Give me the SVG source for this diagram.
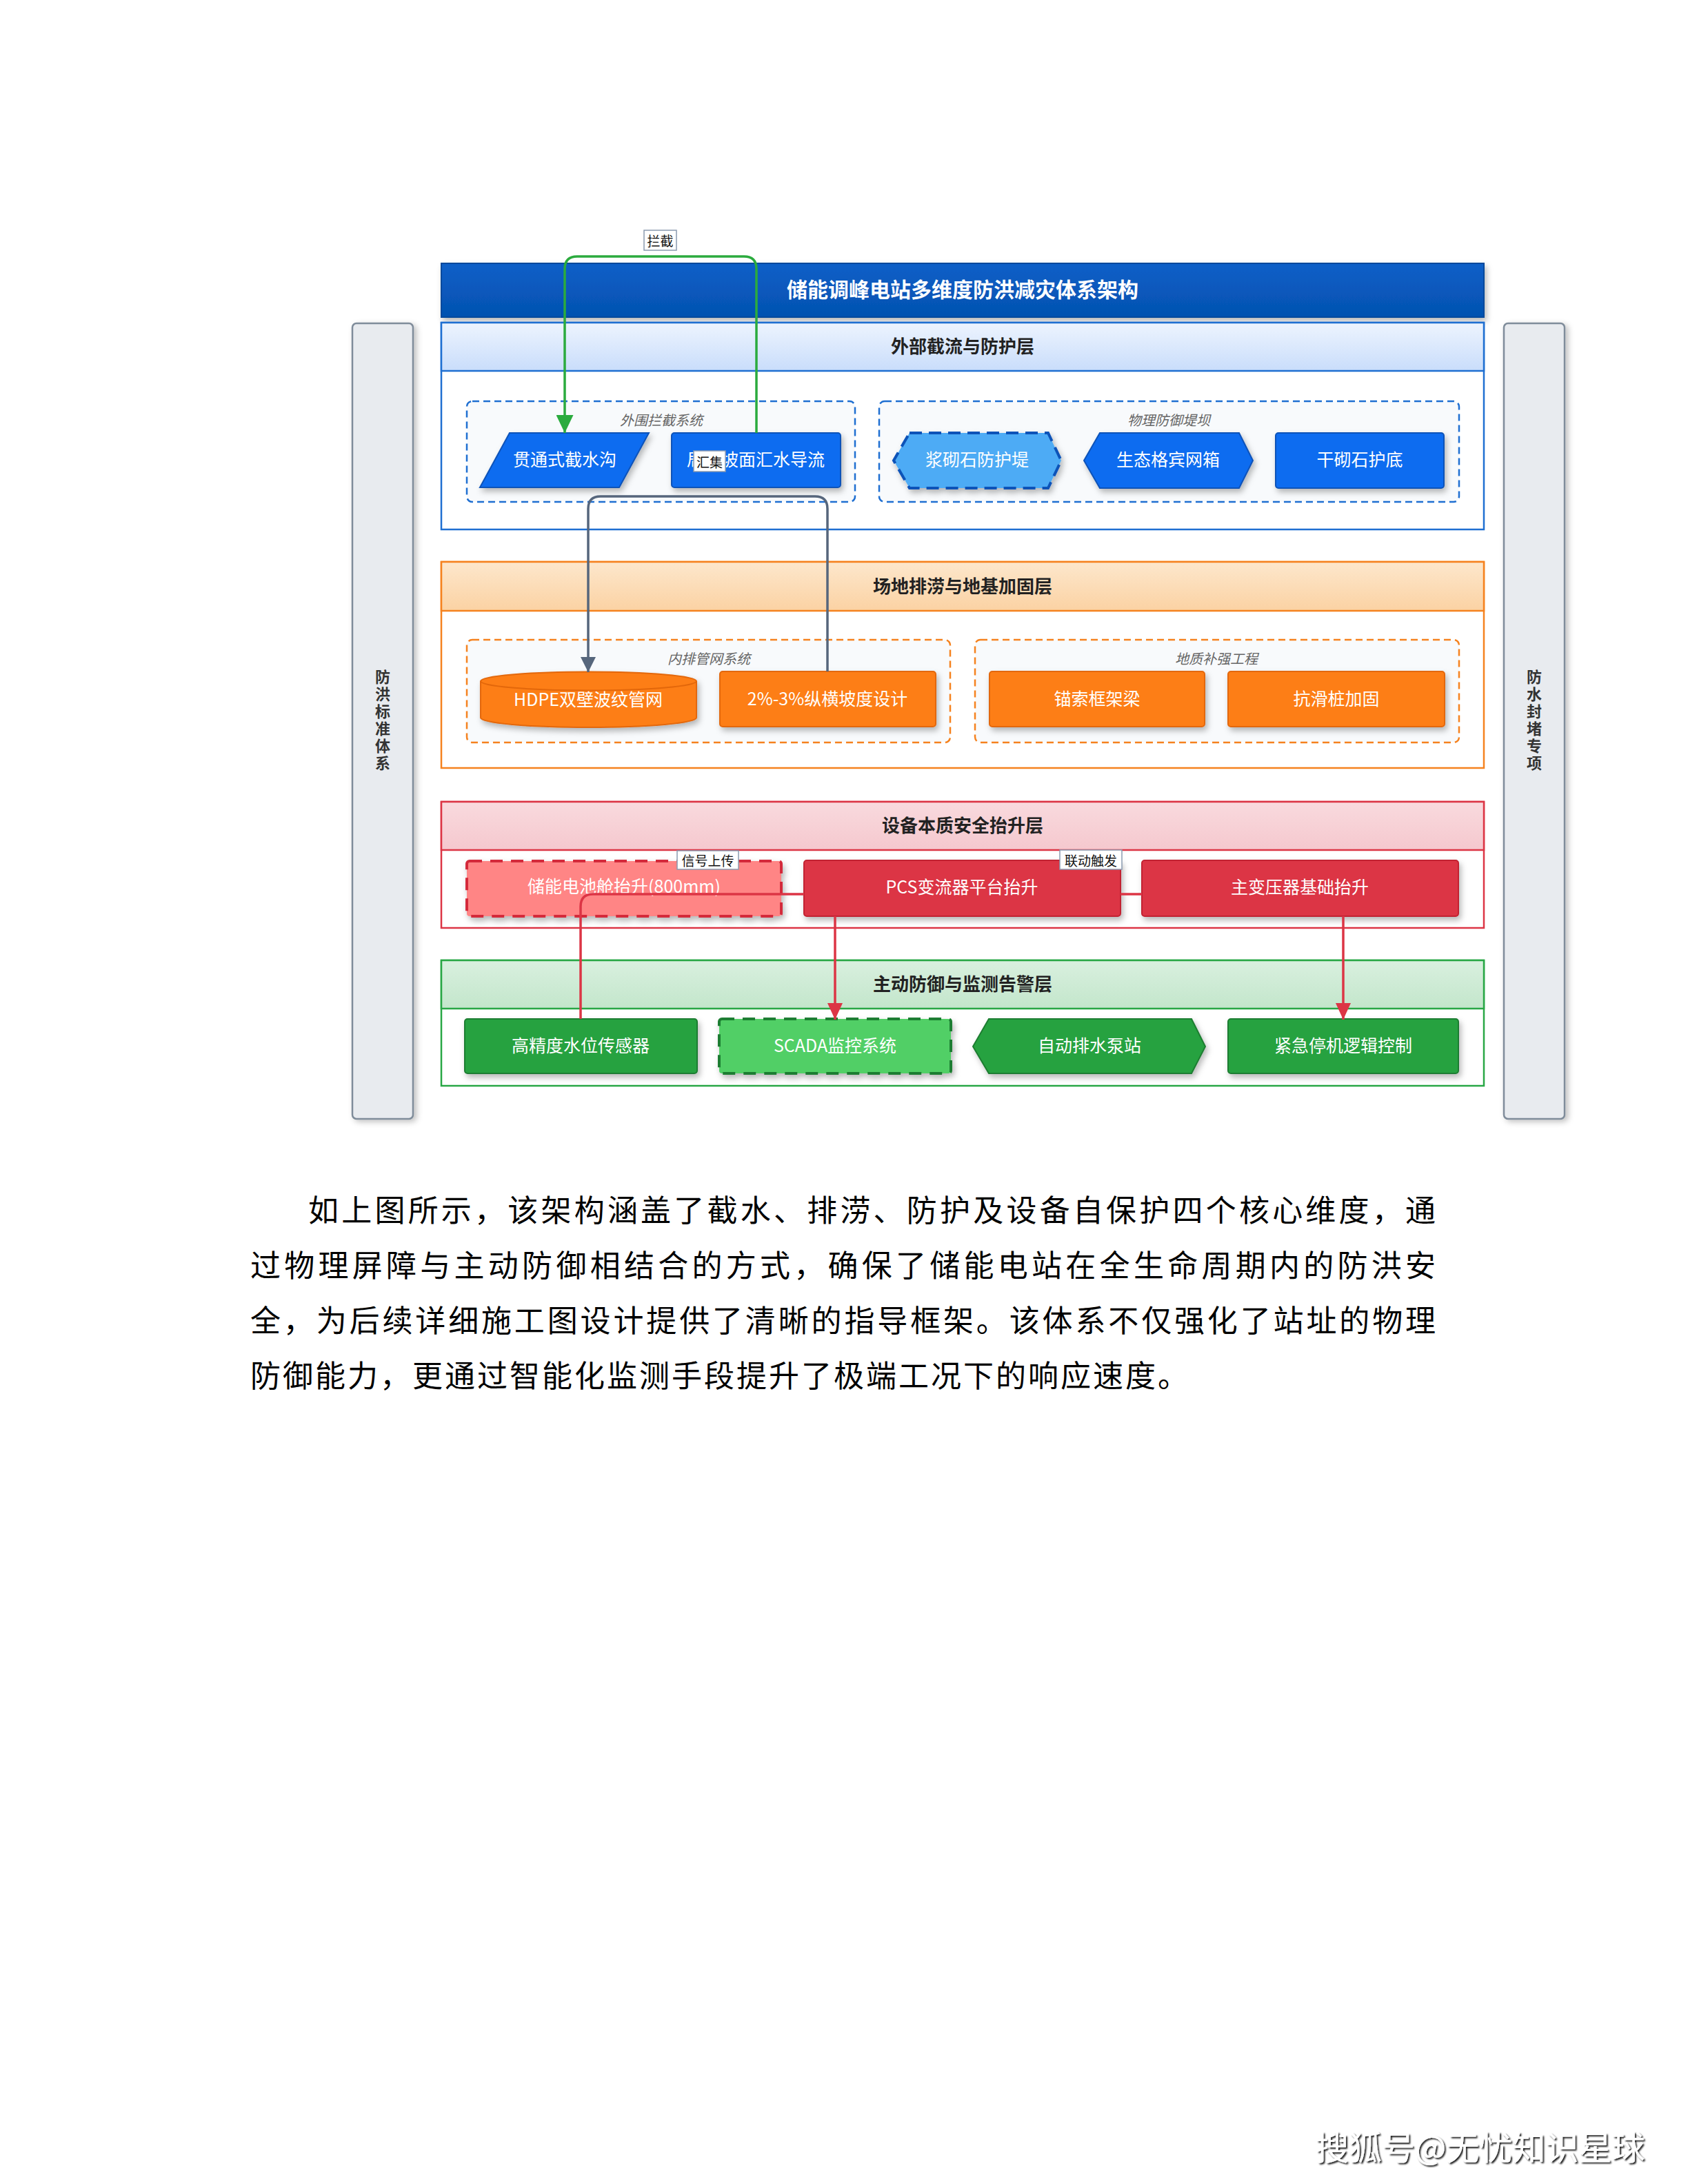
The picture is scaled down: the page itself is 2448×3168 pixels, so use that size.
<svg xmlns="http://www.w3.org/2000/svg" width="2448" height="3168" viewBox="0 0 2448 3168">
<defs>
<style>
.t{font-family:"Noto Sans CJK SC","Noto Sans",sans-serif;text-anchor:middle;dominant-baseline:central}
.nt{font-size:25px;fill:#ffffff}
.hd{font-size:26px;font-weight:bold;fill:#222222}
.gl{font-size:20px;font-style:italic;fill:#666666}
.el{font-size:19px;fill:#111111}
.side{font-family:"Noto Sans CJK SC","Noto Sans",sans-serif;font-size:22px;font-weight:bold;fill:#333333;text-anchor:middle;writing-mode:vertical-rl;letter-spacing:3px}
.lb{fill:#ffffff;stroke:#8a9bb0;stroke-width:1.5}
.blue{fill:#0b6cf0;stroke:#0a52b8;stroke-width:2}
.lblue{fill:#4dabf5;stroke:#0a52b8;stroke-width:4;stroke-dasharray:18 10}
.orange{fill:#fd7e14;stroke:#e3670a;stroke-width:2}
.red{fill:#dc3545;stroke:#c22232;stroke-width:2}
.lred{fill:#ff8585;stroke:#d42a3a;stroke-width:4;stroke-dasharray:18 12}
.green{fill:#28a23f;stroke:#1d7d30;stroke-width:2}
.lgreen{fill:#51cf66;stroke:#1d7d30;stroke-width:4;stroke-dasharray:18 12}
.para{font-family:"Noto Sans CJK SC",sans-serif;font-size:44px;fill:#000000}
.conn{fill:none;stroke-width:3.5}
</style>
<linearGradient id="gBlue" x1="0" y1="0" x2="0" y2="1"><stop offset="0" stop-color="#edf4fe"/><stop offset="1" stop-color="#c9ddfb"/></linearGradient>
<linearGradient id="gOrange" x1="0" y1="0" x2="0" y2="1"><stop offset="0" stop-color="#fde7cc"/><stop offset="1" stop-color="#fbd2a3"/></linearGradient>
<linearGradient id="gRed" x1="0" y1="0" x2="0" y2="1"><stop offset="0" stop-color="#f9dade"/><stop offset="1" stop-color="#f5c8ce"/></linearGradient>
<linearGradient id="gGreen" x1="0" y1="0" x2="0" y2="1"><stop offset="0" stop-color="#d9f0df"/><stop offset="1" stop-color="#c3e6cb"/></linearGradient>
<linearGradient id="gTitle" x1="0" y1="0" x2="0" y2="1"><stop offset="0" stop-color="#0a5fc8"/><stop offset="1" stop-color="#0552b0"/></linearGradient>
<filter id="sh" x="-10%" y="-20%" width="125%" height="150%"><feDropShadow dx="3" dy="5" stdDeviation="4" flood-color="#000000" flood-opacity="0.28"/></filter>
<filter id="shs" x="-20%" y="-5%" width="150%" height="110%"><feDropShadow dx="4" dy="3" stdDeviation="4" flood-color="#000000" flood-opacity="0.25"/></filter>
<filter id="fsh" x="-5%" y="-20%" width="110%" height="150%"><feDropShadow dx="2" dy="2" stdDeviation="0.8" flood-color="#000000" flood-opacity="0.9"/></filter>
<marker id="aG" viewBox="0 0 26 25" refX="26" refY="12.5" markerWidth="26" markerHeight="25" markerUnits="userSpaceOnUse" orient="auto"><path d="M0,0 L26,12.5 L0,25 Z" fill="#2bab3e"/></marker>
<marker id="aS" viewBox="0 0 22 22" refX="22" refY="11" markerWidth="22" markerHeight="22" markerUnits="userSpaceOnUse" orient="auto"><path d="M0,0 L22,11 L0,22 Z" fill="#56667c"/></marker>
<marker id="aR" viewBox="0 0 24 22" refX="24" refY="11" markerWidth="24" markerHeight="22" markerUnits="userSpaceOnUse" orient="auto"><path d="M0,0 L24,11 L0,22 Z" fill="#dc3545"/></marker>
</defs>
<rect x="0" y="0" width="2448" height="3168" fill="#ffffff"/>

<g id="side-left">
<rect x="511" y="469" width="88" height="1154" rx="6" fill="#e8ebef" stroke="#7f8c9a" stroke-width="2.5" filter="url(#shs)"/>
<text class="side" x="555" y="1046">防洪标准体系</text>
</g>
<g id="side-right">
<rect x="2181" y="469" width="88" height="1154" rx="6" fill="#e8ebef" stroke="#7f8c9a" stroke-width="2.5" filter="url(#shs)"/>
<text class="side" x="2225" y="1046">防水封堵专项</text>
</g>

<g id="title">
<rect x="640" y="382" width="1512" height="78" fill="url(#gTitle)" stroke="#04489c" stroke-width="2" filter="url(#sh)"/>
<text class="t" x="1396" y="418" font-size="30" font-weight="bold" fill="#ffffff">储能调峰电站多维度防洪减灾体系架构</text>
</g>

<g id="layer1">
<rect x="640" y="468" width="1512" height="300" fill="#ffffff" stroke="#1f6fd1" stroke-width="2.5"/>
<rect x="640" y="468" width="1512" height="70" fill="url(#gBlue)" stroke="#1f6fd1" stroke-width="2.5"/>
<text class="t hd" x="1396" y="500">外部截流与防护层</text>
</g>
<g id="group-outer">
<rect x="677" y="582" width="563" height="146" rx="8" fill="#f8fafc" stroke="#1f6fd1" stroke-width="2.5" stroke-dasharray="10 6"/>
<text class="t gl" x="959" y="608">外围拦截系统</text>
</g>
<g id="group-dam">
<rect x="1275" y="582" width="841" height="146" rx="8" fill="#f8fafc" stroke="#1f6fd1" stroke-width="2.5" stroke-dasharray="10 6"/>
<text class="t gl" x="1695" y="608">物理防御堤坝</text>
</g>
<g id="n-ditch">
<polygon class="blue" points="739,628 941,628 898,707 696,707" filter="url(#sh)"/>
<text class="t nt" x="819" y="665">贯通式截水沟</text>
</g>
<g id="n-slope">
<rect class="blue" x="974" y="628" width="245" height="79" rx="4" filter="url(#sh)"/>
<text class="t nt" x="1096" y="665">局部坡面汇水导流</text>
</g>
<g id="n-masonry">
<polygon class="lblue" points="1319,628 1520,628 1539,668 1520,708 1319,708 1296,668" filter="url(#sh)"/>
<text class="t nt" x="1417" y="665">浆砌石防护堤</text>
</g>
<g id="n-gabion">
<polygon class="blue" points="1595,628 1797,628 1817,668 1797,708 1595,708 1572,668" filter="url(#sh)"/>
<text class="t nt" x="1694" y="665">生态格宾网箱</text>
</g>
<g id="n-dry">
<rect class="blue" x="1850" y="628" width="244" height="80" rx="4" filter="url(#sh)"/>
<text class="t nt" x="1972" y="665">干砌石护底</text>
</g>

<g id="layer2">
<rect x="640" y="815" width="1512" height="299" fill="#ffffff" stroke="#f5821f" stroke-width="2.5"/>
<rect x="640" y="815" width="1512" height="71" fill="url(#gOrange)" stroke="#f5821f" stroke-width="2.5"/>
<text class="t hd" x="1396" y="848">场地排涝与地基加固层</text>
</g>
<g id="group-drain">
<rect x="677" y="928" width="701" height="149" rx="8" fill="#f8fafc" stroke="#f5821f" stroke-width="2.5" stroke-dasharray="10 6"/>
<text class="t gl" x="1028" y="954">内排管网系统</text>
</g>
<g id="group-geo">
<rect x="1414" y="928" width="702" height="149" rx="8" fill="#f8fafc" stroke="#f5821f" stroke-width="2.5" stroke-dasharray="10 6"/>
<text class="t gl" x="1764" y="954">地质补强工程</text>
</g>
<g id="n-hdpe">
<path class="orange" d="M697,988 A156.5,13.5 0 0,1 1010,988 V1041 A156.5,14 0 0,1 697,1041 Z" filter="url(#sh)"/>
<path d="M697,988 A156.5,13.5 0 0,0 1010,988" fill="none" stroke="#e3670a" stroke-width="2"/>
<text class="t nt" x="853" y="1013">HDPE双壁波纹管网</text>
</g>
<g id="n-gradient">
<rect class="orange" x="1044" y="974" width="313" height="80" rx="4" filter="url(#sh)"/>
<text class="t nt" x="1200" y="1012">2%-3%纵横坡度设计</text>
</g>
<g id="n-anchor">
<rect class="orange" x="1435" y="974" width="312" height="80" rx="4" filter="url(#sh)"/>
<text class="t nt" x="1591" y="1012">锚索框架梁</text>
</g>
<g id="n-pile">
<rect class="orange" x="1781" y="974" width="314" height="80" rx="4" filter="url(#sh)"/>
<text class="t nt" x="1938" y="1012">抗滑桩加固</text>
</g>

<g id="layer3">
<rect x="640" y="1163" width="1512" height="183" fill="#ffffff" stroke="#dc3545" stroke-width="2.5"/>
<rect x="640" y="1163" width="1512" height="70" fill="url(#gRed)" stroke="#dc3545" stroke-width="2.5"/>
<text class="t hd" x="1396" y="1195">设备本质安全抬升层</text>
</g>
<g id="n-battery">
<rect class="lred" x="677" y="1249" width="456" height="80" rx="4" filter="url(#sh)"/>
<text class="t nt" x="905" y="1284">储能电池舱抬升(800mm)</text>
</g>
<g id="n-pcs">
<rect class="red" x="1166" y="1248" width="459" height="81" rx="4" filter="url(#sh)"/>
<text class="t nt" x="1395" y="1285">PCS变流器平台抬升</text>
</g>
<g id="n-trans">
<rect class="red" x="1656" y="1248" width="459" height="81" rx="4" filter="url(#sh)"/>
<text class="t nt" x="1885" y="1285">主变压器基础抬升</text>
</g>

<g id="layer4">
<rect x="640" y="1393" width="1512" height="182" fill="#ffffff" stroke="#28a745" stroke-width="2.5"/>
<rect x="640" y="1393" width="1512" height="70" fill="url(#gGreen)" stroke="#28a745" stroke-width="2.5"/>
<text class="t hd" x="1396" y="1425">主动防御与监测告警层</text>
</g>
<g id="n-sensor">
<rect class="green" x="674" y="1478" width="337" height="79" rx="4" filter="url(#sh)"/>
<text class="t nt" x="842" y="1515">高精度水位传感器</text>
</g>
<g id="n-scada">
<rect class="lgreen" x="1043" y="1478" width="336" height="79" rx="4" filter="url(#sh)"/>
<text class="t nt" x="1211" y="1515">SCADA监控系统</text>
</g>
<g id="n-pump">
<polygon class="green" points="1434,1478 1728,1478 1748,1518 1728,1557 1434,1557 1411,1518" filter="url(#sh)"/>
<text class="t nt" x="1580" y="1515">自动排水泵站</text>
</g>
<g id="n-stop">
<rect class="green" x="1781" y="1478" width="334" height="79" rx="4" filter="url(#sh)"/>
<text class="t nt" x="1948" y="1515">紧急停机逻辑控制</text>
</g>

<g id="connectors">
<path class="conn" stroke="#2bab3e" d="M1097,628 V390 Q1097,372 1079,372 H837 Q819,372 819,390 V628" marker-end="url(#aG)"/>
<rect class="lb" x="934" y="334" width="47" height="29"/>
<text class="t el" x="957.5" y="348.5">拦截</text>
<path class="conn" stroke="#56667c" d="M1200,974 V738 Q1200,720 1182,720 H871 Q853,720 853,738 V975" marker-end="url(#aS)"/>
<rect class="lb" x="1006" y="654" width="46" height="30"/>
<text class="t el" x="1029" y="669">汇集</text>
<path class="conn" stroke="#dc3545" stroke-width="3" d="M842,1478 V1315 Q842,1297 860,1297 H1166"/>
<rect class="lb" x="982" y="1234" width="89" height="27"/>
<text class="t el" x="1026.5" y="1247.5">信号上传</text>
<path class="conn" stroke="#dc3545" stroke-width="3" d="M1625,1297 H1656"/>
<rect class="lb" x="1537" y="1233" width="90" height="28"/>
<text class="t el" x="1582" y="1247">联动触发</text>
<path class="conn" stroke="#dc3545" stroke-width="3" d="M1211,1329 V1479" marker-end="url(#aR)"/>
<path class="conn" stroke="#dc3545" stroke-width="3" d="M1948,1329 V1479" marker-end="url(#aR)"/>
</g>

<g id="paragraph">
<text class="para" x="447" y="1772" textLength="1635" lengthAdjust="spacing">如上图所示，该架构涵盖了截水、排涝、防护及设备自保护四个核心维度，通</text>
<text class="para" x="363" y="1852" textLength="1719" lengthAdjust="spacing">过物理屏障与主动防御相结合的方式，确保了储能电站在全生命周期内的防洪安</text>
<text class="para" x="363" y="1932" textLength="1719" lengthAdjust="spacing">全，为后续详细施工图设计提供了清晰的指导框架。该体系不仅强化了站址的物理</text>
<text class="para" x="363" y="2012" letter-spacing="3">防御能力，更通过智能化监测手段提升了极端工况下的响应速度。</text>
</g>

<g id="footer">
<text x="1908" y="3133" font-family="'Noto Sans CJK SC',sans-serif" font-size="48" fill="#ffffff" filter="url(#fsh)">搜狐号@无忧知识星球</text>
</g>
</svg>
